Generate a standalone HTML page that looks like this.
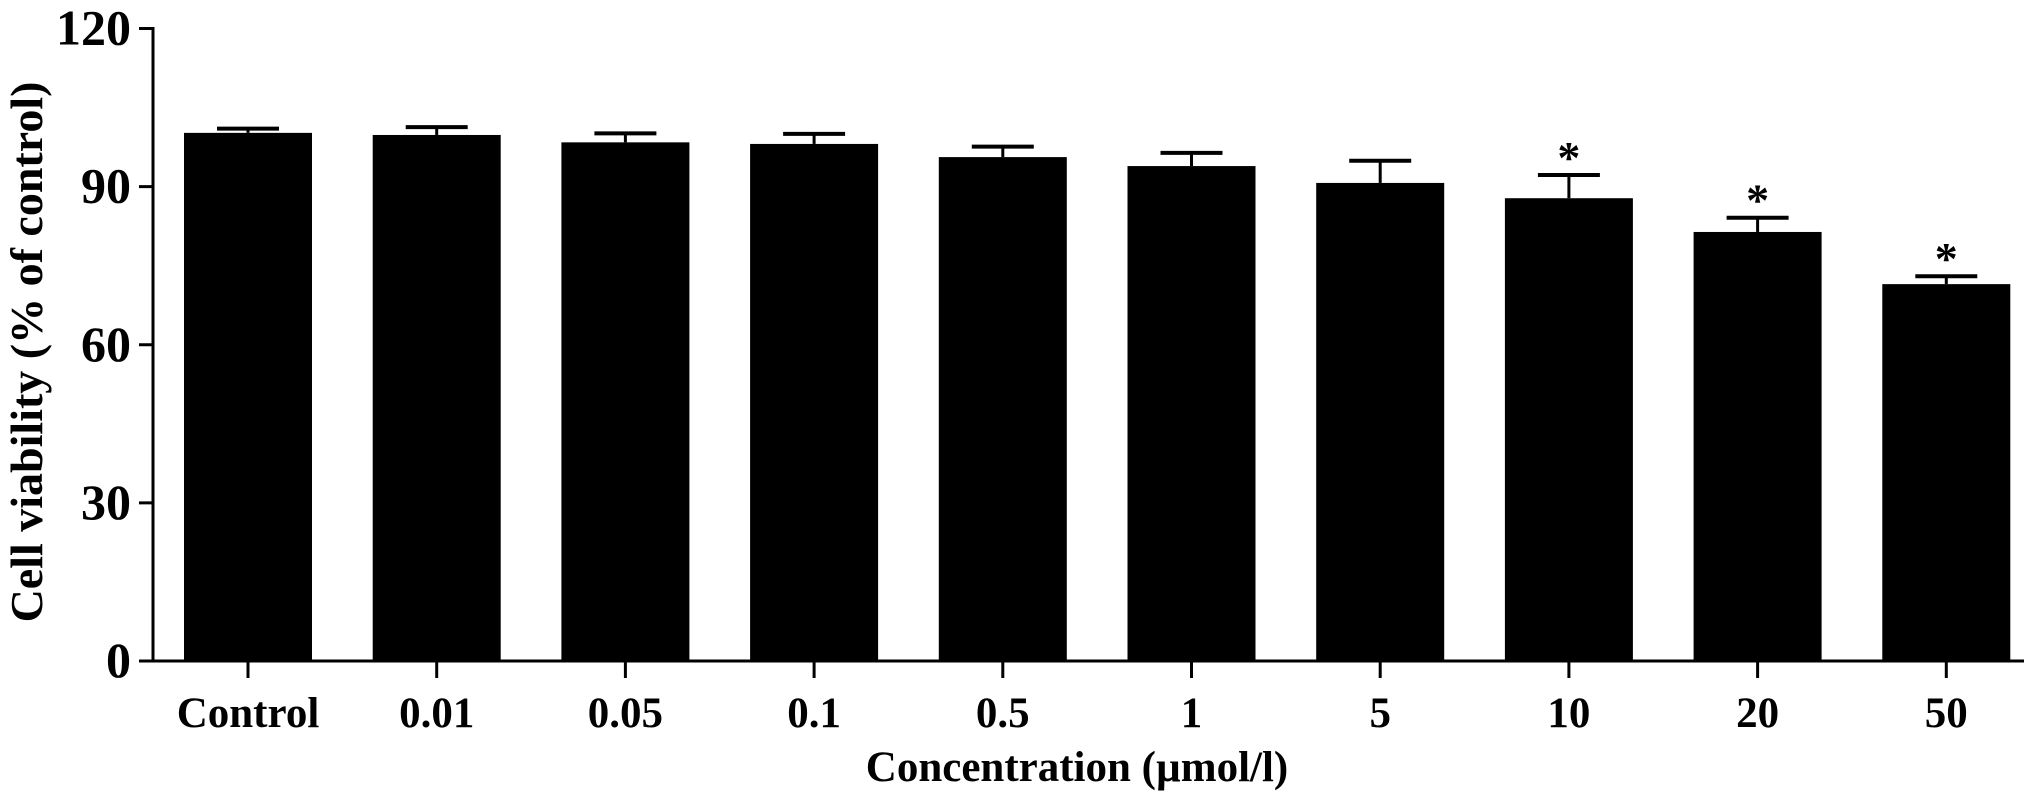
<!DOCTYPE html>
<html><head><meta charset="utf-8"><style>
html,body{margin:0;padding:0;background:#fff;}
svg text{font-family:"Liberation Serif",serif;font-weight:bold;fill:#000;}
</style></head><body>
<svg id="chart" width="2031" height="802" viewBox="0 0 2031 802" xmlns="http://www.w3.org/2000/svg"></svg>
<script>
const categories=["Control","0.01","0.05","0.1","0.5","1","5","10","20","50"];
const values=[100.2,99.8,98.4,98.1,95.6,93.9,90.7,87.8,81.4,71.5];
const errors=[0.8,1.5,1.7,1.9,2.0,2.5,4.2,4.4,2.7,1.5];
const significant=[false,false,false,false,false,false,false,true,true,true];
const yTicks=[0,30,60,90,120];

const svg=document.getElementById('chart');
const NS='http://www.w3.org/2000/svg';
const x0=153, y0=661, yTop=28.5, yMax=120;
const firstBar=184, pitch=188.7, barW=128;
function yScale(v){return y0-(v/yMax)*(y0-yTop);}
function xScale(i){return firstBar+i*pitch;}
function mk(tag,attrs){const e=document.createElementNS(NS,tag);for(const k in attrs)e.setAttribute(k,attrs[k]);svg.appendChild(e);return e;}

categories.forEach((c,i)=>{
  const x=xScale(i), top=yScale(values[i]), et=yScale(values[i]+errors[i]), cx=x+barW/2;
  const b=mk('rect',{x:x,y:top,width:barW,height:y0-top,fill:'#000'});
  
  
  const ev=mk('line',{x1:cx,x2:cx,y1:top,y2:et,stroke:'#000','stroke-width':3});
  
  
  const ec=mk('line',{x1:cx-31,x2:cx+31,y1:et,y2:et,stroke:'#000','stroke-width':4});
  
  
  const tk=mk('line',{x1:cx,x2:cx,y1:y0,y2:y0+17,stroke:'#000','stroke-width':3});
  
  
  const t=mk('text',{x:cx,y:y0+66,'text-anchor':'middle','font-size':43});
  t.textContent=c;
  
  
  if(significant[i]){
    const s=mk('text',{x:cx,y:et-2,'text-anchor':'middle','font-size':46});
    s.textContent='*';
    
    
  }
});

const ya=mk('line',{x1:x0,x2:x0,y1:yTop-1.5,y2:y0+1.5,stroke:'#000','stroke-width':3});


const xa=mk('line',{x1:x0,x2:2024,y1:y0,y2:y0,stroke:'#000','stroke-width':3});



yTicks.forEach(v=>{
  const y=yScale(v);
  const tk=mk('line',{x1:x0-14,x2:x0,y1:y,y2:y,stroke:'#000','stroke-width':3});
  
  
  const t=mk('text',{x:x0-22,y:y+16,'text-anchor':'end','font-size':50});
  t.textContent=v;
  
  
});

const xt=mk('text',{x:1077,y:781,'text-anchor':'middle','font-size':43});
xt.textContent='Concentration (µmol/l)';


const yt=mk('text',{x:0,y:0,'text-anchor':'middle','font-size':46,transform:'translate(42,352) rotate(-90)'});
yt.textContent='Cell viability (% of control)';


</script>
</body></html>
